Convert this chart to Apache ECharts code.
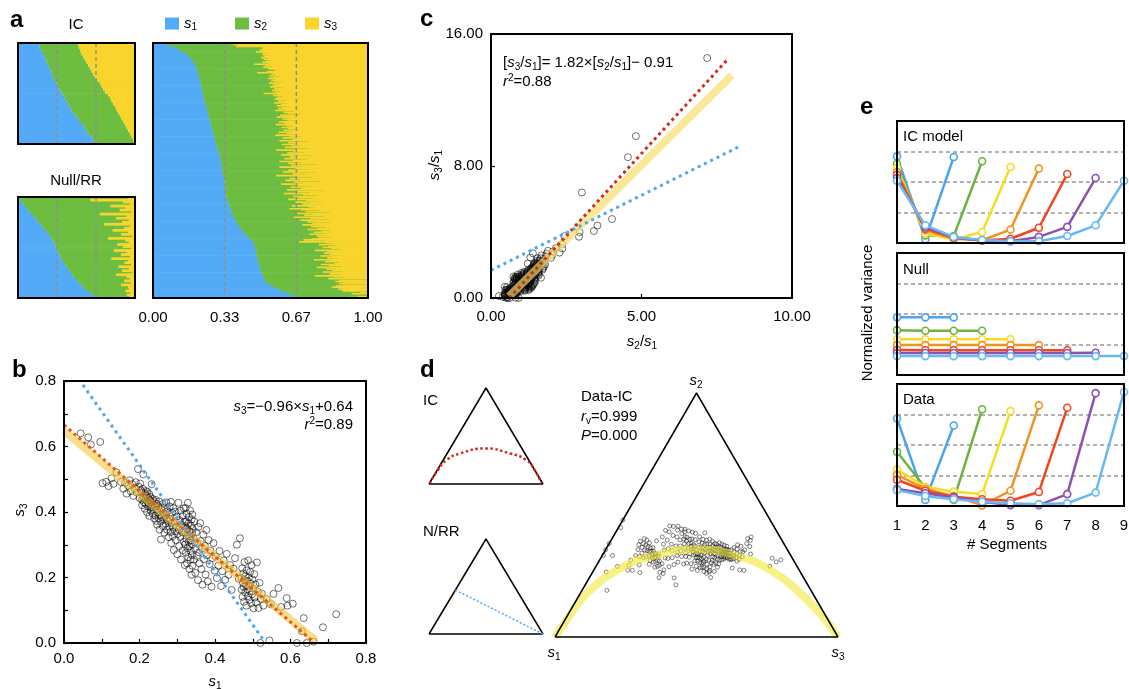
<!DOCTYPE html>
<html><head><meta charset="utf-8">
<script src="https://cdn.jsdelivr.net/npm/echarts@6/dist/echarts.min.js"></script>
<style>html,body{margin:0;padding:0;background:#fff}#c{width:1129px;height:689px}</style>
</head><body><div id="c"></div><script>
// ---------------- DATA ----------------
// per-sample shares [s1, s3]  (s2 = 1 - s1 - s3)
const sampleS1S3 = [
[0.044,0.640],[0.064,0.628],[0.071,0.606],[0.096,0.614],[0.102,0.488],[0.112,0.492],[0.118,0.479],[0.126,0.503],[0.131,0.486],[0.139,0.521],
[0.151,0.492],[0.157,0.471],[0.162,0.489],[0.166,0.456],[0.170,0.480],[0.174,0.497],[0.177,0.463],[0.181,0.485],[0.184,0.449],[0.187,0.472],[0.190,0.491],[0.193,0.459],[0.196,0.531],[0.198,0.477],[0.200,0.443],[0.202,0.487],[0.204,0.466],
[0.205,0.460],[0.207,0.437],[0.207,0.421],[0.209,0.471],[0.210,0.515],[0.210,0.446],[0.212,0.429],[0.214,0.457],[0.214,0.410],[0.215,0.441],[0.217,0.464],[0.217,0.425],[0.218,0.450],[0.220,0.434],[0.220,0.399],[0.221,0.461],[0.223,0.417],[0.223,0.443],[0.224,0.427],[0.226,0.455],[0.226,0.388],[0.227,0.436],[0.229,0.414],[0.229,0.446],[0.230,0.404],[0.232,0.430],[0.232,0.485],[0.233,0.419],[0.235,0.440],[0.235,0.395],[0.236,0.424],[0.238,0.409],[0.238,0.433],[0.239,0.381],
[0.241,0.418],[0.242,0.389],[0.243,0.437],[0.244,0.373],[0.246,0.406],[0.246,0.425],[0.247,0.361],[0.249,0.398],[0.250,0.417],[0.251,0.381],[0.252,0.432],[0.253,0.346],[0.255,0.392],[0.256,0.371],[0.257,0.316],[0.258,0.409],[0.259,0.385],[0.261,0.424],[0.262,0.357],[0.263,0.397],[0.264,0.377],[0.266,0.337],[0.267,0.414],[0.268,0.390],[0.269,0.364],[0.271,0.429],[0.272,0.379],[0.273,0.346],[0.274,0.402],[0.276,0.371],[0.277,0.323],[0.278,0.393],[0.279,0.356],[0.280,0.417],
[0.281,0.378],[0.282,0.339],[0.283,0.431],[0.284,0.305],[0.285,0.366],[0.287,0.398],[0.288,0.327],[0.289,0.352],[0.290,0.412],[0.291,0.284],[0.293,0.372],[0.294,0.341],[0.295,0.401],[0.296,0.314],[0.298,0.356],[0.299,0.386],[0.300,0.271],[0.301,0.333],[0.303,0.428],[0.304,0.347],[0.305,0.296],[0.306,0.375],[0.308,0.324],[0.309,0.404],[0.310,0.255],[0.311,0.362],[0.313,0.338],[0.314,0.388],[0.315,0.283],[0.316,0.349],[0.317,0.411],[0.318,0.309],[0.319,0.371],[0.320,0.238],
[0.321,0.357],[0.321,0.301],[0.322,0.412],[0.322,0.338],[0.323,0.276],[0.324,0.371],[0.324,0.318],[0.325,0.395],[0.326,0.243],[0.326,0.349],[0.327,0.289],[0.328,0.428],[0.328,0.331],[0.329,0.262],[0.330,0.366],[0.330,0.309],[0.331,0.384],[0.332,0.226],[0.332,0.342],[0.333,0.295],[0.334,0.405],[0.334,0.326],[0.335,0.254],[0.336,0.359],[0.336,0.281],[0.337,0.313],[0.338,0.377],[0.338,0.208],[0.339,0.336],[0.339,0.268],[0.340,0.392],[0.340,0.301],[0.340,0.236],[0.341,0.348],
[0.342,0.322],[0.344,0.255],[0.345,0.371],[0.347,0.289],[0.348,0.214],[0.350,0.338],[0.352,0.266],[0.353,0.306],[0.355,0.192],[0.356,0.354],[0.358,0.277],[0.359,0.243],[0.361,0.366],[0.362,0.311],[0.364,0.226],[0.366,0.289],[0.367,0.178],[0.369,0.331],[0.371,0.256],[0.373,0.297],[0.375,0.209],[0.377,0.345],[0.379,0.268],[0.381,0.188],[0.383,0.314],[0.386,0.241],[0.388,0.282],[0.391,0.172],[0.393,0.259],[0.396,0.305],[0.399,0.221],
[0.402,0.264],[0.405,0.198],[0.409,0.236],[0.412,0.281],[0.416,0.174],[0.419,0.219],[0.423,0.252],[0.427,0.193],[0.431,0.272],[0.436,0.208],[0.440,0.238],[0.444,0.162],[0.449,0.227],[0.453,0.259],[0.458,0.300],[0.463,0.196],[0.466,0.320],
[0.470,0.198],[0.471,0.163],[0.472,0.228],[0.473,0.141],[0.474,0.184],[0.475,0.213],[0.476,0.172],[0.477,0.126],[0.478,0.247],[0.479,0.191],[0.480,0.154],[0.481,0.205],[0.482,0.177],[0.483,0.114],[0.484,0.222],[0.485,0.164],[0.486,0.189],[0.487,0.143],[0.488,0.252],[0.489,0.175],[0.490,0.200],[0.491,0.132],[0.492,0.158],[0.493,0.217],[0.494,0.182],[0.496,0.121],[0.497,0.238],[0.498,0.149],[0.499,0.194],[0.501,0.167],[0.502,0.106],[0.504,0.210],[0.505,0.139],[0.507,0.179],[0.509,0.124],[0.511,0.246],[0.513,0.157],[0.515,0.107],[0.518,0.184],[0.521,0.135],[0.524,0.151],[0.528,0.114],
[0.520,0.000],[0.537,0.134],[0.544,0.008],[0.548,0.118],[0.555,0.150],[0.568,0.168],[0.575,0.110],[0.590,0.137],[0.592,0.114],[0.606,0.120],[0.617,0.000],[0.630,0.036],[0.635,0.076],[0.643,0.000],[0.661,0.004],[0.686,0.048],[0.721,0.088]
];
// panel a: IC model rows (s1, s3)
const icRowS1 = [0.186,0.186,0.200,0.214,0.229,0.243,0.243,0.257,0.271,0.286,0.290,0.300,0.314,0.329,0.343,0.357,0.371,0.386,0.400,0.414,0.429,0.443,0.457,0.471,0.500,0.514,0.529,0.557,0.571,0.586,0.600,0.629,0.643,0.657];
const icRowS3 = [0.486,0.480,0.470,0.460,0.443,0.429,0.414,0.400,0.386,0.371,0.357,0.343,0.320,0.300,0.286,0.271,0.257,0.229,0.214,0.200,0.186,0.171,0.157,0.143,0.129,0.114,0.100,0.086,0.071,0.057,0.043,0.029,0.014,0.010];
// panel a: Null/RR rows (s1, s3)
const nullRowS1 = [0.010,0.020,0.035,0.045,0.060,0.075,0.090,0.105,0.120,0.135,0.150,0.165,0.180,0.195,0.210,0.225,0.240,0.252,0.264,0.275,0.286,0.296,0.305,0.314,0.322,0.330,0.338,0.346,0.355,0.364,0.373,0.383,0.393,0.404,0.415,0.427,0.440,0.453,0.466,0.480,0.495,0.510,0.526,0.543,0.560,0.578,0.598,0.620,0.650,0.690];
const nullRowS3 = [0.06,0.38,0.10,0.04,0.21,0.08,0.13,0.03,0.30,0.07,0.16,0.05,0.11,0.26,0.04,0.09,0.19,0.06,0.12,0.02,0.23,0.08,0.05,0.15,0.10,0.03,0.18,0.07,0.12,0.04,0.20,0.06,0.09,0.03,0.14,0.05,0.11,0.02,0.16,0.07,0.04,0.09,0.03,0.12,0.06,0.05,0.08,0.04,0.07,0.05];
const aGuides = [1/3, 2/3];
const aTickValues = [0, 1/3, 2/3, 1];
// panel b lines [s1, s3]
const bFitLine = [[0,0.648],[0.668,0.006]];
const bIcLine = [[0,0.666],[0.66,0.004]];
const bNullLine = [[0.05,0.788],[0.528,0.01]];
// panel c lines [s2/s1, s3/s1]
const cFitLine = [[0.6,0.1],[8.0,13.5]];
const cIcLine = [[0.61,0.0],[7.82,14.38]];
const cNullLine = [[0.0,1.68],[8.26,9.19]];
// panel d (ternary [s1, s2, s3])
const triangle = [[1,0,0],[0,1,0],[0,0,1],[1,0,0]];
const dDataArc = [[1,0,0],[0.9075,0.085,0.0075],[0.799,0.178,0.023],[0.6295,0.281,0.0895],[0.486,0.332,0.182],[0.3215,0.359,0.3195],[0.191,0.332,0.477],[0.102,0.274,0.624],[0.049,0.192,0.759],[0.0145,0.096,0.8895],[0,0,1]];
const dIcArc = [[0.99,0.007,0.003],[0.855,0.14,0.005],[0.722,0.249,0.029],[0.57,0.318,0.112],[0.318,0.37,0.312],[0.131,0.318,0.551],[0.022,0.249,0.729],[0.001,0.128,0.871],[0.0115,0.007,0.9815]];
const dNullLine = [[0.537,0.463,0],[0,0,1]];
// panel e: normalized variance per number of segments (k = 3..9)
const segments = [1,2,3,4,5,6,7,8,9];
const eIcModel = [
[2.84,0.12,2.82],
[2.60,0.25,0.23,2.68],
[2.46,0.31,0.12,0.36,2.49],
[2.33,0.42,0.14,0.09,0.44,2.44],
[2.24,0.47,0.17,0.08,0.14,0.50,2.26],
[2.13,0.53,0.19,0.08,0.06,0.20,0.53,2.13],
[2.04,0.58,0.20,0.10,0.06,0.06,0.23,0.58,2.04]];
const eNull = [
[1.89,1.89,1.89],
[1.47,1.45,1.45,1.45],
[1.17,1.17,1.17,1.17,1.17],
[0.98,0.98,0.98,0.98,0.98,0.98],
[0.82,0.81,0.81,0.81,0.81,0.81,0.81],
[0.72,0.72,0.72,0.72,0.72,0.72,0.72,0.73],
[0.62,0.62,0.62,0.62,0.62,0.62,0.62,0.62,0.62]];
const eData = [
[2.87,0.20,2.64],
[1.78,0.59,0.20,3.17],
[1.20,0.63,0.47,0.39,3.11],
[1.02,0.56,0.33,0.02,0.50,3.30],
[0.86,0.50,0.30,0.22,0.17,0.46,3.22],
[0.56,0.42,0.28,0.14,0.03,0.03,0.39,3.70],
[0.52,0.33,0.22,0.14,0.09,0.06,0.09,0.44,3.74]];

// ---------------- STYLE ----------------
const FONT = "'Liberation Sans', Arial, Helvetica, sans-serif";
const shareColors = ['#53aaf7', '#6dbd40', '#f8d42c'];
const segColors = ['#4ba4f2','#6cb43f','#f7dc22','#ef951f','#f4461d','#8b52b0','#68b8f4'];
const rich = {
  n: {fontFamily: FONT, fontSize: 15, lineHeight: 18, color: '#000'},
  i: {fontFamily: FONT, fontSize: 15, fontStyle: 'italic', lineHeight: 18, color: '#000'},
  sb: {fontFamily: FONT, fontSize: 10, lineHeight: 10, verticalAlign: 'bottom', color: '#000'},
  sp: {fontFamily: FONT, fontSize: 10, lineHeight: 10, verticalAlign: 'top', color: '#000'}
};
const SQ = Math.sqrt(3) / 2;
const tern = p => [p[2] + p[1] / 2, p[1] * SQ];

// derived views of the same samples
const s2of = p => 1 - p[0] - p[1];
const bPoints = sampleS1S3.map(p => [p[0], p[1]]);
const cPoints = sampleS1S3.map(p => [s2of(p) / p[0], p[1] / p[0]]);
const dPoints = sampleS1S3.map(p => tern([p[0], s2of(p), p[1]]));
const sortedRows = sampleS1S3.slice().sort((a, b) => a[0] - b[0]);

// ---------------- LAYOUT ----------------
const grids = [
  {left: 18, top: 43, width: 117, height: 101},   // 0 a IC
  {left: 18, top: 197, width: 117, height: 101},  // 1 a Null
  {left: 153, top: 43, width: 215, height: 255},  // 2 a main
  {left: 64, top: 381, width: 302, height: 262},  // 3 b
  {left: 491, top: 34, width: 301, height: 264},  // 4 c
  {left: 429, top: 388, width: 114, height: 96},  // 5 d IC
  {left: 429, top: 539, width: 114, height: 95},  // 6 d N/RR
  {left: 555, top: 393, width: 283, height: 244}, // 7 d big
  {left: 897, top: 121, width: 227, height: 122}, // 8 e IC
  {left: 897, top: 253, width: 227, height: 122}, // 9 e Null
  {left: 897, top: 384, width: 227, height: 122}  // 10 e Data
].map((g, i) => Object.assign({
  show: !(i >= 5 && i <= 7), borderColor: '#000', borderWidth: 2, backgroundColor: 'transparent',
  z: 5, containLabel: false, outerBoundsMode: 'none'
}, g));

const lbl = {color: '#000', fontFamily: FONT, fontSize: 15};
const hiddenVal = (gi, min, max) => ({type: 'value', gridIndex: gi, min, max, show: false});
const xAxes = [], yAxes = [];
// a
for (let gi = 0; gi < 3; gi++) {
  const n = gi === 0 ? icRowS1.length : gi === 1 ? nullRowS1.length : sortedRows.length;
  xAxes.push(gi === 2 ? {
    type: 'value', gridIndex: gi, min: 0, max: 1,
    axisLine: {show: false}, axisTick: {show: false}, splitLine: {show: false},
    axisLabel: Object.assign({customValues: aTickValues, formatter: v => v.toFixed(2), margin: 12}, lbl)
  } : hiddenVal(gi, 0, 1));
  yAxes.push({type: 'category', gridIndex: gi, inverse: true, show: false,
    data: Array.from({length: n}, (_, i) => i)});
}
// b
const tickStyle = {show: true, inside: true, length: 4, lineStyle: {color: '#000', width: 1.2}};
const minor = {show: true, splitNumber: 2, length: 4, lineStyle: {color: '#000', width: 1.2}};
xAxes.push({type: 'value', gridIndex: 3, min: 0, max: 0.8, interval: 0.2,
  axisLine: {show: true, lineStyle: {color: '#000', width: 2}}, axisTick: tickStyle, minorTick: minor,
  splitLine: {show: false}, axisLabel: Object.assign({formatter: v => v.toFixed(1), margin: 8}, lbl)});
yAxes.push({type: 'value', gridIndex: 3, min: 0, max: 0.8, interval: 0.2,
  axisLine: {show: true, lineStyle: {color: '#000', width: 2}}, axisTick: tickStyle, minorTick: minor,
  splitLine: {show: false}, axisLabel: Object.assign({formatter: v => v.toFixed(1), margin: 8}, lbl)});
// c
xAxes.push({type: 'value', gridIndex: 4, min: 0, max: 10, interval: 5,
  axisLine: {show: true, lineStyle: {color: '#000', width: 2}}, axisTick: tickStyle,
  splitLine: {show: false}, axisLabel: Object.assign({formatter: v => v.toFixed(2), margin: 11}, lbl)});
yAxes.push({type: 'value', gridIndex: 4, min: 0, max: 16, interval: 8,
  axisLine: {show: true, lineStyle: {color: '#000', width: 2}}, axisTick: tickStyle,
  splitLine: {show: false}, axisLabel: Object.assign({formatter: v => v.toFixed(2), margin: 8}, lbl)});
// d
for (let gi = 5; gi <= 7; gi++) { xAxes.push(hiddenVal(gi, 0, 1)); yAxes.push(hiddenVal(gi, 0, SQ)); }
// e
for (let gi = 8; gi <= 10; gi++) {
  xAxes.push({type: 'value', gridIndex: gi, min: 1, max: 9, interval: 1,
    axisLine: {show: false}, axisTick: {show: false}, splitLine: {show: false},
    axisLabel: Object.assign({show: gi === 10, margin: 12, formatter: v => String(segments[v - 1])}, lbl)});
  yAxes.push({type: 'value', gridIndex: gi, min: 0, max: 4, interval: 1,
    axisLine: {show: false}, axisTick: {show: false}, axisLabel: {show: false},
    splitLine: {show: true, lineStyle: {color: '#999', type: [4, 3], width: 1.5}}});
}

// ---------------- SERIES ----------------
const series = [];
const names = ['s1', 's2', 's3'];
// each row segment: [start, rowIndex, end] -> rectangle spanning the category band
function rowRect(params, api) {
  const row = api.value(1);
  const p0 = api.coord([api.value(0), row]);
  const p1 = api.coord([api.value(2), row]);
  const h = api.size([0, 1])[1];
  return {type: 'rect', shape: {x: p0[0], y: p0[1] - h / 2 - 0.35, width: p1[0] - p0[0], height: h + 0.7},
    style: {fill: api.visual('color')}};
}
function shareRows(gi, s1, s3) {
  const seg = [
    s1.map((v, i) => [0, i, v]),
    s1.map((v, i) => [v, i, 1 - s3[i]]),
    s1.map((v, i) => [1 - s3[i], i, 1])
  ];
  seg.forEach((d, k) => {
    const s = {type: 'custom', name: names[k], xAxisIndex: gi, yAxisIndex: gi, data: d,
      renderItem: rowRect, encode: {x: [0, 2], y: 1}, silent: true, animation: false, z: 2,
      itemStyle: {color: shareColors[k]}};
    series.push(s);
  });
  // dashed guide lines at 1/3 and 2/3 spanning the full box
  const n = s1.length;
  aGuides.forEach(g => series.push({type: 'custom', xAxisIndex: gi, yAxisIndex: gi, silent: true, z: 3,
    data: [[g, 0, n - 1]], encode: {x: 0, y: [1, 2]},
    renderItem: (p, api) => {
      const h = api.size([0, 1])[1];
      const a = api.coord([api.value(0), api.value(1)]);
      const b = api.coord([api.value(0), api.value(2)]);
      return {type: 'line', shape: {x1: a[0], y1: a[1] - h / 2, x2: b[0], y2: b[1] + h / 2},
        style: {stroke: '#8e8e8e', lineWidth: 1.5, lineDash: [4, 3]}};
    }}));
}
shareRows(0, icRowS1, icRowS3);
shareRows(1, nullRowS1, nullRowS3);
shareRows(2, sortedRows.map(p => p[0]), sortedRows.map(p => p[1]));

const ring = (size, bw) => ({symbol: 'circle', symbolSize: size,
  itemStyle: {color: 'rgba(0,0,0,0)', borderColor: '#000', borderWidth: bw}});
const lineS = (gi, data, color, width, type, z, extra) => Object.assign({
  type: 'line', xAxisIndex: gi, yAxisIndex: gi, data, symbol: 'none', silent: true, clip: false, z,
  lineStyle: {color, width, type: type || 'solid'}}, extra || {});

// b
series.push(Object.assign({type: 'scatter', xAxisIndex: 3, yAxisIndex: 3, data: bPoints, clip: false, silent: true, z: 2}, ring(7, 0.7)));
series.push(lineS(3, bFitLine, 'rgba(246,198,60,0.6)', 8, 'solid', 3));
series.push(lineS(3, bIcLine, '#e4581c', 3, [3, 3.5], 4));
series.push(lineS(3, bNullLine, '#4ea7f2', 3, [3, 4], 4));
// c
series.push(Object.assign({type: 'scatter', xAxisIndex: 4, yAxisIndex: 4, data: cPoints, clip: false, silent: true, z: 2}, ring(7, 0.7)));
series.push(lineS(4, cFitLine, 'rgba(248,222,110,0.7)', 8, 'solid', 3));
series.push(lineS(4, cIcLine, '#d42a1c', 3, [3, 3.5], 4));
series.push(lineS(4, cNullLine, '#4ea7f2', 3, [3, 4], 4));
// d
series.push(lineS(5, triangle.map(tern), '#000', 1.5, 'solid', 3));
series.push(lineS(5, dIcArc.map(tern), '#d42a1c', 2.5, [2.5, 2.5], 4, {smooth: true}));
series.push(lineS(6, triangle.map(tern), '#000', 1.5, 'solid', 3));
series.push(lineS(6, dNullLine.map(tern), '#4ea7f2', 1.5, [2, 2], 4));
series.push(Object.assign({type: 'scatter', xAxisIndex: 7, yAxisIndex: 7, data: dPoints, clip: false, silent: true, z: 2}, ring(4, 0.6)));
series.push(lineS(7, dDataArc.map(tern), 'rgba(244,234,60,0.62)', 8, 'solid', 3, {smooth: true}));
series.push(lineS(7, triangle.map(tern), '#000', 1.5, 'solid', 4));
// e
[[8, eIcModel], [9, eNull], [10, eData]].forEach(([gi, sets]) => {
  sets.forEach((vals, k) => {
    series.push({type: 'line', xAxisIndex: gi, yAxisIndex: gi, silent: true, clip: false, z: 3 + k * 0.01,
      data: vals.map((v, i) => [segments[i], v]),
      symbol: 'circle', symbolSize: 7,
      itemStyle: {color: '#fff', borderColor: segColors[k], borderWidth: 1.6},
      lineStyle: {color: segColors[k], width: 2.5}});
  });
});

// ---------------- TEXT ----------------
function txt(x, y, text, o) {
  o = o || {};
  const align = o.align || 'left';
  return {type: 'text', x, y, rotation: o.rot || 0, z: 100, silent: true,
    style: {text, fill: '#000', font: (o.bold ? 'bold ' : '') + (o.size || 15) + 'px ' + FONT,
      align, verticalAlign: 'middle', textAlign: align, textVerticalAlign: 'middle',
      rich: o.rich ? rich : undefined}};
}
const graphic = [
  txt(10, 20, 'a', {bold: true, size: 24}),
  txt(76, 25, 'IC', {align: 'center'}),
  txt(76, 181, 'Null/RR', {align: 'center'}),
  txt(12, 370, 'b', {bold: true, size: 24}),
  txt(353, 407, '{i|s}{sb|3}{n|=\u22120.96\u00d7}{i|s}{sb|1}{n|+0.64}', {align: 'right', rich: true}),
  txt(353, 425, '{i|r}{sp|2}{n|=0.89}', {align: 'right', rich: true}),
  txt(215, 682, '{i|s}{sb|1}', {align: 'center', rich: true}),
  txt(20, 510, '{i|s}{sb|3}', {align: 'center', rich: true, rot: Math.PI / 2}),
  txt(420, 19, 'c', {bold: true, size: 24}),
  txt(503, 63, '{n|[}{i|s}{sb|3}{n|/}{i|s}{sb|1}{n|]= 1.82\u00d7[}{i|s}{sb|2}{n|/}{i|s}{sb|1}{n|]\u2212 0.91}', {rich: true}),
  txt(503, 82, '{i|r}{sp|2}{n|=0.88}', {rich: true}),
  txt(642, 342, '{i|s}{sb|2}{n|/}{i|s}{sb|1}', {align: 'center', rich: true}),
  txt(435, 165, '{i|s}{sb|3}{n|/}{i|s}{sb|1}', {align: 'center', rich: true, rot: Math.PI / 2}),
  txt(420, 370, 'd', {bold: true, size: 24}),
  txt(423, 401, 'IC'),
  txt(423, 532, 'N/RR'),
  txt(581, 397, 'Data-IC'),
  txt(581, 417, '{i|r}{sb|v}{n|=0.999}', {rich: true}),
  txt(581, 436, '{i|P}{n|=0.000}', {rich: true}),
  txt(696, 381, '{i|s}{sb|2}', {align: 'center', rich: true}),
  txt(554, 653, '{i|s}{sb|1}', {align: 'center', rich: true}),
  txt(838, 653, '{i|s}{sb|3}', {align: 'center', rich: true}),
  txt(860, 107, 'e', {bold: true, size: 24}),
  txt(903, 137, 'IC model'),
  txt(903, 270, 'Null'),
  txt(903, 400, 'Data'),
  txt(868, 313, 'Normalized variance', {align: 'center', rot: Math.PI / 2}),
  txt(1007, 545, '# Segments', {align: 'center'})
];

const chart = echarts.init(document.getElementById('c'));
chart.setOption({
  animation: false,
  backgroundColor: '#fff',
  grid: grids,
  xAxis: xAxes,
  yAxis: yAxes,
  legend: {
    data: names.map((nm, k) => ({name: nm, itemStyle: {color: shareColors[k]}})),
    left: 165, top: 16, padding: 0, itemWidth: 14, itemHeight: 12, itemGap: 38,
    icon: 'rect', selectedMode: false,
    formatter: name => '{i|s}{sb|' + name.slice(1) + '}',
    textStyle: {rich}
  },
  series,
  graphic
});
</script></body></html>
